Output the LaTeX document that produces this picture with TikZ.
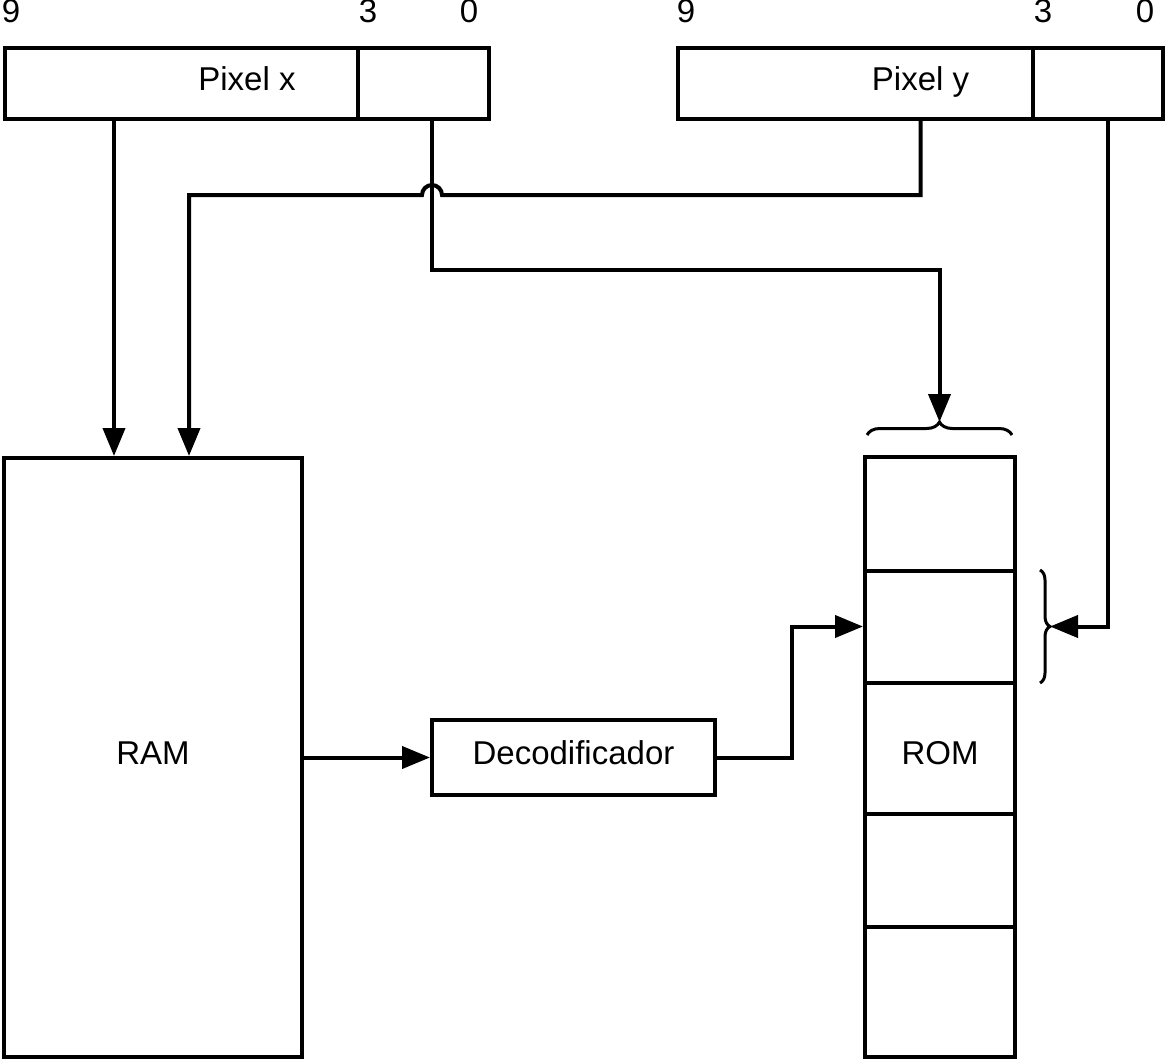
\documentclass[tikz,border=0pt]{standalone}
\usepackage{fontspec}
\setmainfont{Liberation Sans}
\usetikzlibrary{arrows.meta,decorations.pathreplacing}

\begin{document}
\begin{tikzpicture}[
    x=1pt, y=-1pt,
    line width=4pt,
    every node/.style={font=\fontsize{33}{40}\selectfont},
    box/.style={draw, rectangle, inner sep=0pt, text depth=9pt},
    arrow/.style={-{Triangle[length=28pt,width=22pt]}},
    bracket/.style={line width=3pt, decorate, decoration={brace, amplitude=#1}}
]
    \useasboundingbox (0,0) rectangle (1167,1060);

    % === PIXEL REGISTERS ===
    \node[box, minimum width=484pt, minimum height=71pt] (pixx) at (247,83) {Pixel x};
    \node[box, minimum width=131pt, minimum height=71pt] (pixxlo) at (423.5,83) {};
    \node[box, minimum width=485pt, minimum height=71pt] (pixy) at (920.5,83) {Pixel y};
    \node[box, minimum width=130pt, minimum height=71pt] (pixylo) at (1098,83) {};

    % bit numbers
    \node[anchor=base] (xmsb) at (11,23) {9};
    \node[anchor=base] (xbit) at (368,23) {3};
    \node[anchor=base] (xlsb) at (469,23) {0};
    \node[anchor=base] (ymsb) at (686,23) {9};
    \node[anchor=base] (ybit) at (1043,23) {3};
    \node[anchor=base] (ylsb) at (1145,23) {0};

    % === RAM, DECODER, ROM ===
    \node[box, minimum width=298pt, minimum height=599pt] (ram) at (153,757.5) {RAM};
    \node[box, minimum width=283pt, minimum height=75pt] (dec) at (573.5,757.5) {Decodificador};
    \node[box, minimum width=150pt, minimum height=600pt] (rom) at (940,757) {ROM};

    % ROM rows
    \foreach \y in {571, 683, 814, 927} {
        \draw (865,\y) -- (1015,\y);
    }

    % Braces on the ROM
    \draw[bracket=13pt] (867,435) -- (1012,435);
    \draw[bracket=10pt] (1040,570) -- (1040,683);

    % === CONNECTORS ===
    \coordinate (xhiout) at (114,120);
    \coordinate (xloout) at (432,120);
    \coordinate (yloout) at (1108,120);
    \coordinate (jump) at (442,195);
    \coordinate (yhiin) at (189,0);
    \coordinate (romtip) at (939.5,422);
    \coordinate (rowtip) at (1050,626.5);

    \draw[arrow] (xhiout) -- (xhiout |- ram.north);
    \draw[arrow] (xloout) -- ++(0,150) -| (romtip);
    \draw[arrow] (pixy.south) |- (jump) arc[start angle=0, end angle=-180, radius=10]
        -| (yhiin |- ram.north);
    \draw[arrow] (yloout) |- (rowtip);

    \draw[arrow] (ram.east) -- (dec.west);
    \draw[arrow] (dec.east) -- ++(75,0) |- (rom.west |- rowtip);
\end{tikzpicture}
\end{document}
